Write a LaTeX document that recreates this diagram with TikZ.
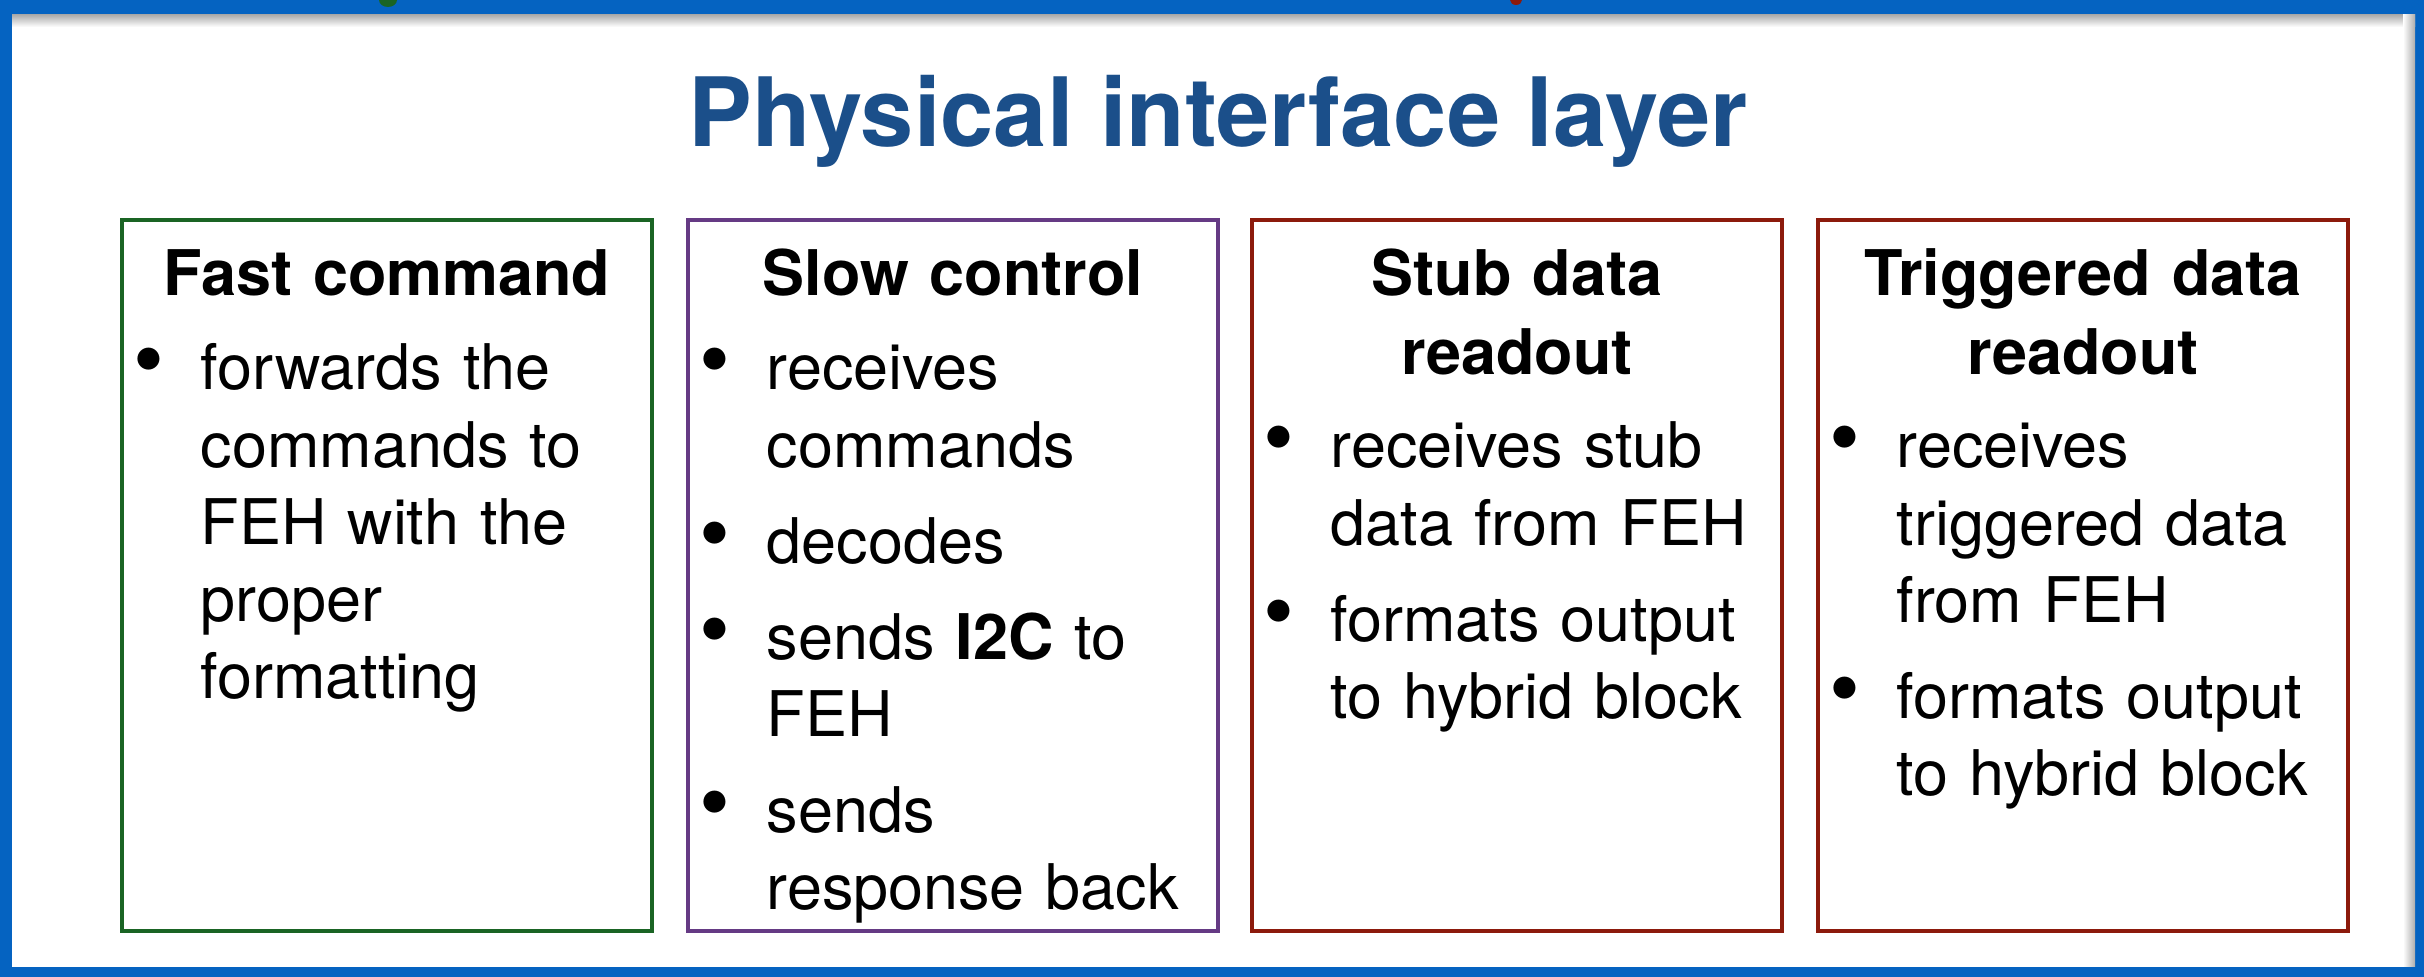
\documentclass[tikz,border=0pt]{standalone}
\usepackage{fontspec}
\usepackage{graphicx}
\setmainfont{TeX Gyre Heros}
\definecolor{frameblue}{HTML}{0563C1}
\definecolor{titleblue}{HTML}{1B4F8A}
\definecolor{fastgreen}{HTML}{1A6424}
\definecolor{slowpurple}{HTML}{653A84}
\definecolor{readred}{HTML}{8C1A0C}

\newcommand{\dotmark}{\leavevmode\llap{\makebox[0pt][c]{\scalebox{1.4}{\textbullet}}\hspace{0.52cm}}}
\newcommand{\dotitem}{\par\noindent\dotmark}

\begin{document}
\begin{tikzpicture}[
          x=0.01cm,y=-0.01cm,
          panel/.style={draw=#1,line width=1.2pt,minimum width=5.3cm,
                        minimum height=7.11cm,inner sep=0pt},
          heading/.style={anchor=base,align=center,text width=5cm,inner sep=0pt,
                          font=\bfseries\fontsize{17.9pt}{22.2pt}\selectfont},
          bullets/.style={anchor=base west,align=left,text width=5cm,inner sep=0pt,
                          font=\fontsize{17.9pt}{21.9pt}\selectfont,
                          execute at begin node={\setlength{\parskip}{0.19cm}}},
      ]
        \useasboundingbox (0,0) rectangle (2424,977);

        % slide frame with its inner shadow
        \fill[frameblue] (0,0) rectangle (2424,977);
        \fill[white] (12,15) rectangle (2415,967);
        \shade[top color=black!32,bottom color=white] (12,15) rectangle (2415,27);
        \shade[left color=white,right color=black!32] (2403,15) rectangle (2415,967);
        \fill[fastgreen] (388,0) ellipse (9 and 7);
        \fill[readred] (1516,0) ellipse (6 and 5);

        \node[font=\bfseries\fontsize{27.2pt}{32pt}\selectfont,text=titleblue,
              anchor=base,inner sep=0pt] (title) at (1218,147) {Physical interface layer};

        \node[panel=fastgreen] (fast) at (387,575.5) {};
        \node[panel=slowpurple] (slow) at (953,575.5) {};
        \node[panel=readred] (stub) at (1517,575.5) {};
        \node[panel=readred] (trig) at (2083,575.5) {};

        \node[heading] (fasthd) at (387,296) {Fast command};
        \node[heading] (slowhd) at (953,296) {Slow control};
        \node[heading] (stubhd) at (1517,296) {Stub data\\readout};
        \node[heading] (trighd) at (2083,296) {Triggered data\\readout};

        \node[bullets] (fasttx) at (200,390)
          {\dotmark forwards the\newline commands to\newline FEH with the\newline proper\newline formatting};
        \node[bullets] (slowtx) at (766,390)
          {\dotmark receives\newline commands
           \dotitem decodes
           \dotitem sends \textbf{I2C} to\newline FEH
           \dotitem sends\newline response back};
        \node[bullets] (stubtx) at (1330,468)
          {\dotmark receives stub\newline data from FEH
           \dotitem formats output\newline to hybrid block};
        \node[bullets] (trigtx) at (1896,468)
          {\dotmark receives\newline triggered data\newline from FEH
           \dotitem formats output\newline to hybrid block};
      \end{tikzpicture}
\end{document}
